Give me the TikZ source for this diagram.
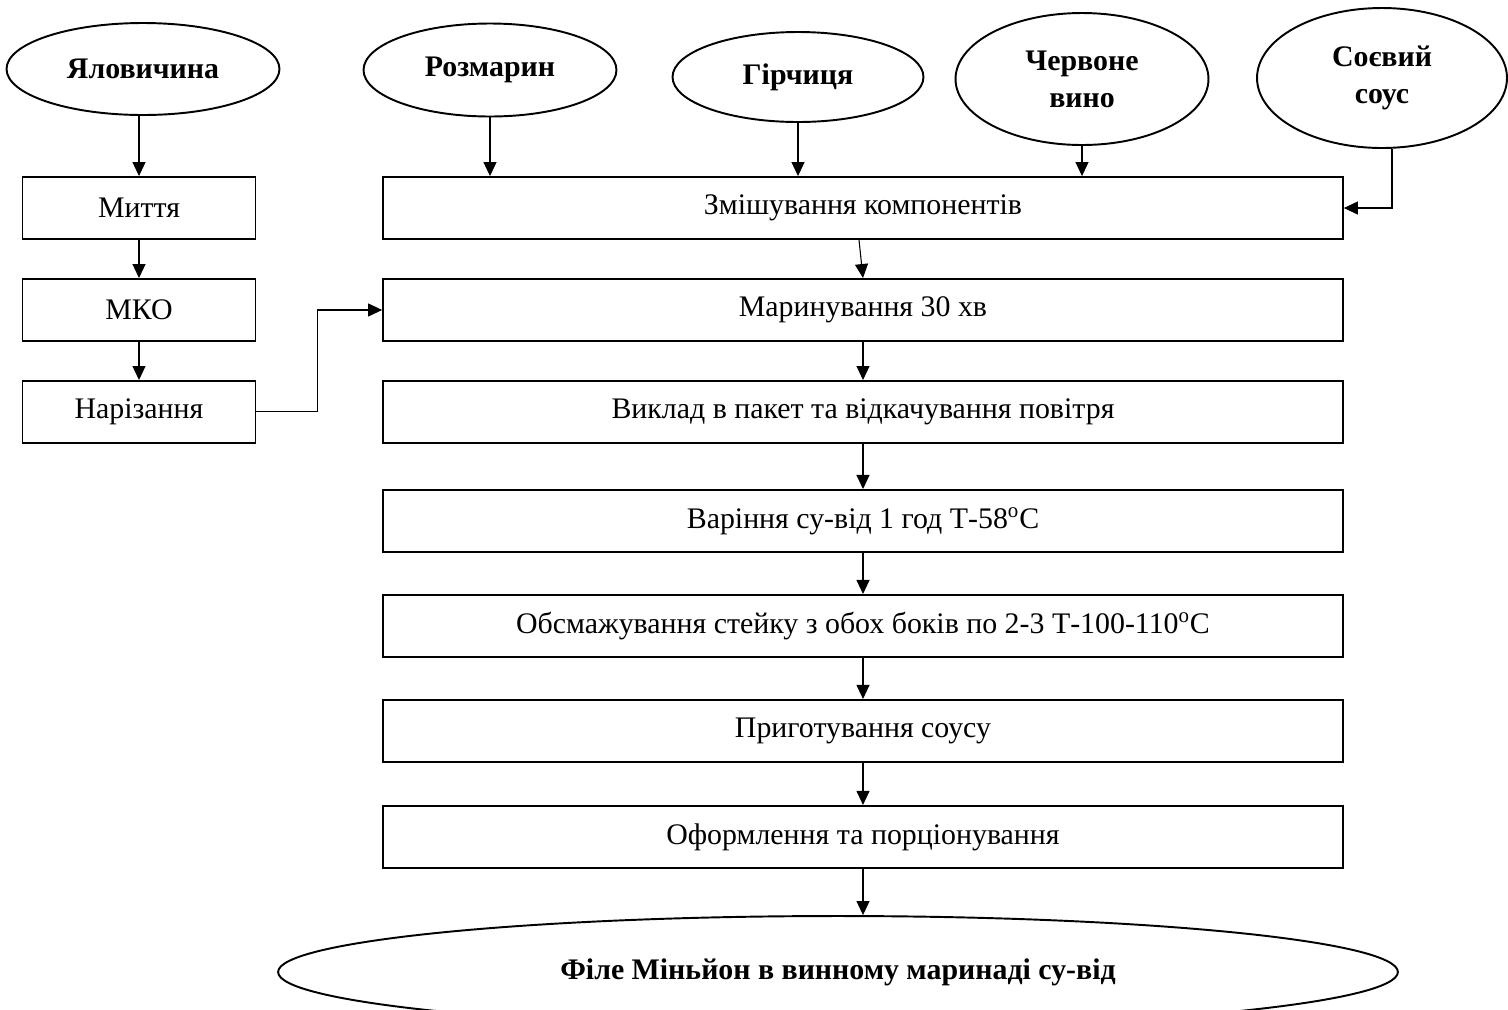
\documentclass[tikz,border=0pt]{standalone}
\usepackage{fontspec}
\setmainfont{Liberation Serif}
\usetikzlibrary{shapes.geometric,arrows.meta}
\begin{document}
\begin{tikzpicture}[
  x=0.02cm, y=-0.02cm,
  >={Triangle[length=0.28cm,width=0.26cm]},
  block/.style={rectangle, draw, line width=1.1pt, minimum width=4.66cm, minimum height=1.24cm, font=\fontsize{17}{20}\selectfont},
  wideblock/.style={block, minimum width=19.2cm},
  ingr/.style={ellipse, draw, line width=1.1pt, inner sep=0pt, align=center, font=\fontsize{17}{21}\selectfont\bfseries},
  node distance=2.04cm
]
\useasboundingbox (0,0) rectangle (1508,1009);
% Ingredients
\node[ingr,minimum width=5.46cm,minimum height=1.84cm] (beef) at (143,69) {Яловичина};
\node[ingr,minimum width=5.06cm,minimum height=1.86cm] (rosemary) at (490,70) {Розмарин};
\node[ingr,minimum width=5.02cm,minimum height=1.8cm] (mustard) at (798,77) {Гірчиця};
\node[ingr,minimum width=5.06cm,minimum height=2.64cm] (wine) at (1082,79) {Червоне\\вино};
\node[ingr,minimum width=5.0cm,minimum height=2.8cm] (soy) at (1382,78) {Соєвий\\соус};

% Meat preparation
\node[block] (wash) at (139,208) {Миття};
\node[block,below of=wash] (mko) {МКО};
\node[block,below of=mko] (cut) {Нарізання};

% Main line
\node[wideblock] (mix) at (863,208) {Змішування компонентів};
\node[wideblock,below of=mix] (marinate) {Маринування 30 хв};
\node[wideblock,below of=marinate] (pack) {Виклад в пакет та відкачування повітря};
\node[wideblock,below of=pack,node distance=2.18cm] (sousvide) {Варіння су-від 1 год Т-58\textsuperscript{o}С};
\node[wideblock,below of=sousvide,node distance=2.1cm] (fry) {Обсмажування стейку з обох боків по 2-3 Т-100-110\textsuperscript{o}С};
\node[wideblock,below of=fry,node distance=2.1cm] (sauce) {Приготування соусу};
\node[wideblock,below of=sauce,node distance=2.12cm] (serve) {Оформлення та порціонування};
\node[ingr,minimum width=22.4cm,minimum height=2.24cm] (fillet) at (838,972) {Філе Міньйон в винному маринаді су-від};

% Arrows
\draw[->,semithick] (wash.north |- beef.south) -- (wash.north);
\draw[->,semithick] (wash) -- (mko);
\draw[->,semithick] (mko) -- (cut);
\draw[->,semithick] (cut.east) -- ++(61,0) |- (marinate.west);
\draw[->,semithick] (rosemary.south) -- (rosemary.south |- mix.north);
\draw[->,semithick] (mustard.south) -- (mustard.south |- mix.north);
\draw[->,semithick] (wine.south) -- (wine.south |- mix.north);
\draw[->,semithick] ([xshift=0.2cm]soy.south) |- (mix.east);
\draw[->,semithick] ([xshift=-0.08cm]mix.south) -- (marinate.north);
\draw[->,semithick] (marinate) -- (pack);
\draw[->,semithick] (pack) -- (sousvide);
\draw[->,semithick] (sousvide) -- (fry);
\draw[->,semithick] (fry) -- (sauce);
\draw[->,semithick] (sauce) -- (serve);
\draw[->,semithick] (serve.south) -- (serve.south |- fillet.north);
\end{tikzpicture}
\end{document}
